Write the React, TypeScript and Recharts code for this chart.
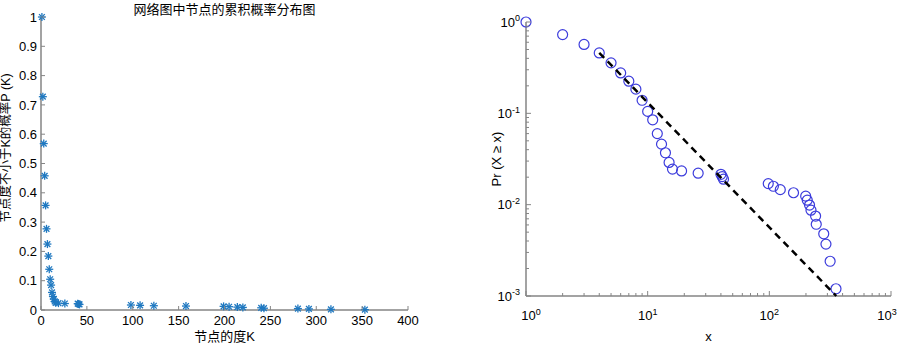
import React from 'react';
import { ScatterChart, Scatter, XAxis, YAxis } from 'recharts';

// ---- data ----
const degreeK = [1, 2, 3, 4, 5, 6, 7, 8, 9, 10, 11, 12, 13, 14, 15, 16, 19, 26, 40, 41, 42, 98, 108, 123, 158, 199, 205, 214, 220, 240, 243, 280, 292, 316, 353];
const probP = [1, 0.728, 0.568, 0.458, 0.357, 0.277, 0.225, 0.184, 0.139, 0.105, 0.085, 0.06, 0.046, 0.037, 0.029, 0.0245, 0.0234, 0.0221, 0.0215, 0.0203, 0.019, 0.017, 0.0159, 0.0146, 0.0135, 0.0124, 0.0112, 0.0099, 0.0087, 0.0075, 0.0061, 0.0048, 0.0037, 0.0024, 0.0012];
const fitX = [4, 355];
const fitY = [0.46, 0.001];

const leftXTicks = [0, 50, 100, 150, 200, 250, 300, 350, 400];
const leftYTicks = [0, 0.1, 0.2, 0.3, 0.4, 0.5, 0.6, 0.7, 0.8, 0.9, 1];
const leftYTickLabels = ['0', '0.1', '0.2', '0.3', '0.4', '0.5', '0.6', '0.7', '0.8', '0.9', '1'];

const logXMajor = [1, 10, 100, 1000];
const logXTicks = [1, 2, 3, 4, 5, 6, 7, 8, 9, 10, 20, 30, 40, 50, 60, 70, 80, 90, 100, 200, 300, 400, 500, 600, 700, 800, 900, 1000];
const logXExp = ['0', '1', '2', '3'];
const logYMajor = [0.001, 0.01, 0.1, 1];
const logYTicks = [0.001, 0.002, 0.003, 0.004, 0.005, 0.006, 0.007, 0.008, 0.009, 0.01, 0.02, 0.03, 0.04, 0.05, 0.06, 0.07, 0.08, 0.09, 0.1, 0.2, 0.3, 0.4, 0.5, 0.6, 0.7, 0.8, 0.9, 1];
const logYExp = ['-3', '-2', '-1', '0'];

const leftTitle = '网络图中节点的累积概率分布图';
const leftXLabel = '节点的度K';
const leftYLabel = '节点度不小于K的概率P (K)';
const rightXLabel = 'x';
const rightYLabel = 'Pr (X ≥ x)';

const points = degreeK.map((k, i) => ({ k, p: probP[i] }));
const fitLine = fitX.map((k, i) => ({ k, p: fitY[i] }));

// ---- styles ----
const FONT = '"Liberation Sans", Arial, "Noto Sans CJK SC", sans-serif';
const AXIS = '#858585';
const AXIS_W = 1.5;
const TEXT = '#000';
const STAR = '#1f78c0';
const CIRC = '#3c3cdc';

const matchIdx = (arr: number[], v: number) =>
  arr.findIndex((m) => Math.abs(m - v) <= 1e-6 * Math.max(Math.abs(m), 1e-9));

type Side = 'bottom' | 'top' | 'left' | 'right';
function makeTick(side: Side, margin: number, majorLen: number, minorLen: number, majors: number[] | null, label?: (i: number, v: number) => React.ReactNode, dxFor?: (i: number) => number) {
  return (props: any) => {
    const { x, y, payload } = props;
    const v = payload.value as number;
    const idx = majors ? matchIdx(majors, v) : 0;
    const isMajor = idx >= 0;
    const len = isMajor ? majorLen : minorLen;
    let line: React.ReactNode = null;
    let text: React.ReactNode = null;
    if (side === 'bottom') {
      const ay = y - margin;
      line = <line x1={x} x2={x} y1={ay} y2={ay - len} stroke={AXIS} strokeWidth={1} />;
      if (label && isMajor) text = (
        <text x={x + (dxFor ? dxFor(idx) : 0)} y={y} textAnchor="middle" fontSize={13} fontFamily={FONT} fill={TEXT}>{label(idx, v)}</text>
      );
    } else if (side === 'top') {
      line = <line x1={x} x2={x} y1={y} y2={y + len} stroke={AXIS} strokeWidth={1} />;
    } else if (side === 'left') {
      const ax = x + margin;
      line = <line x1={ax} x2={ax + len} y1={y} y2={y} stroke={AXIS} strokeWidth={1} />;
      if (label && isMajor) text = (
        <text x={x} y={y} textAnchor="end" fontSize={13} fontFamily={FONT} fill={TEXT}>{label(idx, v)}</text>
      );
    } else {
      line = <line x1={x} x2={x - len} y1={y} y2={y} stroke={AXIS} strokeWidth={1} />;
    }
    return <g>{line}{text}</g>;
  };
}

const Asterisk = (props: any) => {
  const { cx, cy } = props;
  const r = 4;
  const d = r * 0.72;
  return (
    <g stroke={STAR} strokeWidth={1.3}>
      <line x1={cx - r} x2={cx + r} y1={cy} y2={cy} />
      <line x1={cx} x2={cx} y1={cy - r} y2={cy + r} />
      <line x1={cx - d} x2={cx + d} y1={cy - d} y2={cy + d} />
      <line x1={cx - d} x2={cx + d} y1={cy + d} y2={cy - d} />
    </g>
  );
};

const Ring = (props: any) => {
  const { cx, cy } = props;
  return <circle cx={cx} cy={cy} r={5} fill="none" stroke={CIRC} strokeWidth={1.2} />;
};

const Nothing = () => <g />;

const supLabelX = (exps: string[]) => (i: number) => (
  <>
    <tspan dy="0.71em">10</tspan>
    <tspan dy="-0.55em" fontSize={9}>{exps[i]}</tspan>
  </>
);
const supLabelY = (exps: string[]) => (i: number) => (
  <>
    <tspan dy="0.36em">10</tspan>
    <tspan dy="-0.6em" fontSize={9}>{exps[i]}</tspan>
  </>
);
const logXLabelShift = (i: number) => (i === 0 ? 5 : i === 3 ? -4 : 0);

const LEFT_PLOT_W = 367;

function LeftChart() {
  return (
    <ScatterChart width={440} height={344} margin={{ top: 17, right: 32, bottom: 0, left: 0 }}>
      <XAxis xAxisId="b" dataKey="k" type="number" domain={[0, 400]} ticks={leftXTicks} interval={0}
        height={34} tickSize={0} tickMargin={6} axisLine={{ stroke: AXIS, strokeWidth: AXIS_W }}
        tick={makeTick('bottom', 6, 4, 4, null, (_i, v) => <tspan dy="0.71em">{String(v)}</tspan>)}
        label={{ content: (p: any) => { const vb = p.viewBox; return <text x={vb.x + vb.width / 2} y={vb.y + 26} textAnchor="middle" dominantBaseline="central" fontSize={13} fontFamily={FONT} fill={TEXT}>{leftXLabel}</text>; } }}
      />
      <XAxis xAxisId="t" orientation="top" dataKey="k" type="number" domain={[0, 400]} ticks={leftXTicks} interval={0}
        height={0} tickSize={0} tickMargin={0} axisLine={{ stroke: AXIS, strokeWidth: AXIS_W }}
        tick={makeTick('top', 0, 4, 4, null)}
      />
      <YAxis yAxisId="l" dataKey="p" type="number" domain={[0, 1]} ticks={leftYTicks} interval={0}
        width={41} tickSize={0} tickMargin={4} axisLine={{ stroke: AXIS, strokeWidth: AXIS_W }}
        tick={makeTick('left', 4, 4, 4, leftYTicks, (i) => <tspan dy="0.36em">{leftYTickLabels[i]}</tspan>)}
        label={{ content: (p: any) => {
          const vb = p.viewBox;
          const cx = vb.x + 6; const cy = vb.y + 131;
          const tx = vb.x + vb.width + LEFT_PLOT_W / 2; const ty = vb.y - 8;
          return (
            <g>
              <text x={cx} y={cy} transform={`rotate(-90 ${cx} ${cy})`} textAnchor="middle" dominantBaseline="central" fontSize={12.5} fontFamily={FONT} fill={TEXT}>{leftYLabel}</text>
              <text x={tx} y={ty} textAnchor="middle" dominantBaseline="central" fontSize={13} fontFamily={FONT} fill={TEXT}>{leftTitle}</text>
            </g>
          );
        } }}
      />
      <YAxis yAxisId="r" orientation="right" dataKey="p" type="number" domain={[0, 1]} ticks={leftYTicks} interval={0}
        width={0} tickSize={0} tickMargin={0} axisLine={{ stroke: AXIS, strokeWidth: AXIS_W }}
        tick={makeTick('right', 0, 4, 4, null)}
      />
      <Scatter xAxisId="t" yAxisId="r" data={points} shape={Nothing} isAnimationActive={false} />
      <Scatter xAxisId="b" yAxisId="l" data={points} shape={Asterisk} isAnimationActive={false} />
    </ScatterChart>
  );
}

function RightChart() {
  return (
    <ScatterChart width={417} height={344} margin={{ top: 22, right: 6, bottom: 0, left: 0 }}>
      <XAxis xAxisId="b" dataKey="k" type="number" scale="log" domain={[1, 1000]} ticks={logXTicks} interval={0}
        height={48} tickSize={0} tickMargin={15} axisLine={{ stroke: AXIS, strokeWidth: AXIS_W }}
        tick={makeTick('bottom', 15, 5, 3, logXMajor, supLabelX(logXExp), logXLabelShift)}
        label={{ content: (p: any) => { const vb = p.viewBox; return <text x={vb.x + vb.width / 2} y={vb.y + 40} textAnchor="middle" dominantBaseline="central" fontSize={13} fontFamily={FONT} fill={TEXT}>{rightXLabel}</text>; } }}
      />
      <XAxis xAxisId="t" orientation="top" dataKey="k" type="number" scale="log" domain={[1, 1000]} ticks={logXTicks} interval={0}
        height={0} tickSize={0} tickMargin={0} axisLine={{ stroke: AXIS, strokeWidth: AXIS_W }}
        tick={makeTick('top', 0, 5, 3, logXMajor)}
      />
      <YAxis yAxisId="l" dataKey="p" type="number" scale="log" domain={[0.001, 1]} ticks={logYTicks} interval={0}
        width={46} tickSize={0} tickMargin={6} axisLine={{ stroke: AXIS, strokeWidth: AXIS_W }}
        tick={makeTick('left', 6, 5, 3, logYMajor, supLabelY(logYExp))}
        label={{ content: (p: any) => { const vb = p.viewBox; const cx = vb.x + 16; const cy = vb.y + vb.height / 2; return <text x={cx} y={cy} transform={`rotate(-90 ${cx} ${cy})`} textAnchor="middle" dominantBaseline="central" fontSize={13} fontFamily={FONT} fill={TEXT}>{rightYLabel}</text>; } }}
      />
      <YAxis yAxisId="r" orientation="right" dataKey="p" type="number" scale="log" domain={[0.001, 1]} ticks={logYTicks} interval={0}
        width={0} tickSize={0} tickMargin={0} axisLine={{ stroke: AXIS, strokeWidth: AXIS_W }}
        tick={makeTick('right', 0, 5, 3, logYMajor)}
      />
      <Scatter xAxisId="t" yAxisId="r" data={points} shape={Nothing} isAnimationActive={false} />
      <Scatter xAxisId="b" yAxisId="l" data={points} shape={Ring} isAnimationActive={false} />
      <Scatter xAxisId="b" yAxisId="l" data={fitLine} shape={Nothing} isAnimationActive={false}
        line={{ stroke: '#000', strokeWidth: 2.5, strokeDasharray: '7 5' }} />
    </ScatterChart>
  );
}

export default function App() {
  return (
    <div style={{ position: 'absolute', left: 0, top: 0, width: 897, height: 344, background: '#fff', overflow: 'hidden' }}>
      <div style={{ position: 'absolute', left: 0, top: 0 }}>
        <LeftChart />
      </div>
      <div style={{ position: 'absolute', left: 480, top: 0 }}>
        <RightChart />
      </div>
    </div>
  );
}
